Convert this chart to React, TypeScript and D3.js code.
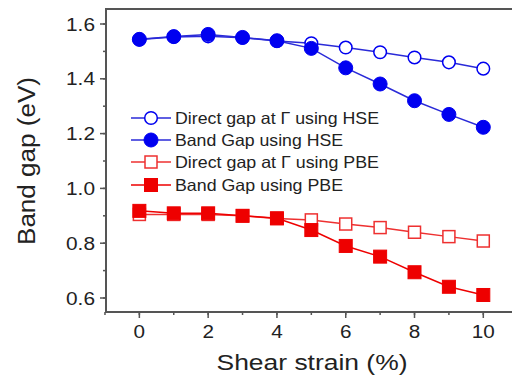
import React from "react";
import * as d3 from "d3";

const strain = [0, 1, 2, 3, 4, 5, 6, 7, 8, 9, 10];
const hseDirect = [1.543, 1.553, 1.555, 1.55, 1.538, 1.53, 1.514, 1.497, 1.478, 1.46, 1.437];
const hseBand = [1.544, 1.554, 1.562, 1.551, 1.539, 1.511, 1.44, 1.381, 1.32, 1.27, 1.223];
const pbeDirect = [0.905, 0.905, 0.905, 0.9, 0.89, 0.885, 0.87, 0.857, 0.84, 0.824, 0.808];
const pbeBand = [0.918, 0.909, 0.909, 0.9, 0.891, 0.848, 0.79, 0.751, 0.694, 0.641, 0.611];
const xTicks = [0, 2, 4, 6, 8, 10];
const yTicks = [0.6, 0.8, 1.0, 1.2, 1.4, 1.6];
const legendLabels = [
  "Direct gap at \u0393 using HSE",
  "Band Gap using HSE",
  "Direct gap at \u0393 using PBE",
  "Band Gap using PBE",
];

const W = 512;
const H = 387;
const L = 106;
const T = 9;
const B = 312;

export default function App() {
  const x = d3.scaleLinear().domain([-0.97, 10]).range([L, 483.3]);
  const y = d3.scaleLinear().domain([0.6, 1.6]).range([298, 24]);
  const line = (vals: number[]) =>
    d3.line<number>().x((_, i) => x(strain[i])).y((v) => y(v))(vals) || "";

  const blue = "#0000f0";
  const blueLine = "#2a2ad8";
  const red = "#ee0000";
  const redLight = "#ee3030";
  const font = "Liberation Sans, Arial, sans-serif";
  const txt = "#222";

  const series = [
    { vals: hseDirect, color: blue, lineColor: blueLine, shape: "circle", filled: false },
    { vals: hseBand, color: blue, lineColor: blueLine, shape: "circle", filled: true },
    { vals: pbeDirect, color: redLight, lineColor: redLight, shape: "square", filled: false },
    { vals: pbeBand, color: red, lineColor: red, shape: "square", filled: true },
  ];
  const legendLens = [204, 168, 204, 168];

  const marker = (cx: number, cy: number, s: any, key: any) =>
    s.shape === "circle" ? (
      <circle
        key={key}
        cx={cx}
        cy={cy}
        r={s.filled ? 7 : 6.3}
        fill={s.filled ? s.color : "#fff"}
        stroke={s.color}
        strokeWidth={s.filled ? 1 : 1.5}
      />
    ) : (
      <rect
        key={key}
        x={cx - (s.filled ? 6.5 : 6)}
        y={cy - (s.filled ? 6.5 : 6)}
        width={s.filled ? 13 : 12}
        height={s.filled ? 13 : 12}
        fill={s.filled ? s.color : "#fff"}
        stroke={s.color}
        strokeWidth={s.filled ? 1 : 1.5}
      />
    );

  const yMinor = d3.range(0.6, 1.65, 0.1);
  const xMinor = d3.range(-1, 11.5, 1);
  const legendY = [118, 140, 162, 185];

  return (
    <svg width={W} height={H} style={{ position: "absolute", left: 0, top: 0, background: "#fff" }}>
      <rect width={W} height={H} fill="#fff" />
      {/* frame */}
      <line x1={L} x2={W} y1={T} y2={T} stroke="#555" strokeWidth={2} />
      <line x1={L} x2={W} y1={B} y2={B} stroke="#555" strokeWidth={2} />
      <line x1={L} x2={L} y1={T - 1} y2={B + 1} stroke="#555" strokeWidth={2} />
      {/* y ticks */}
      {yMinor.map((v, i) => (
        <line key={"ym" + i} x1={L - 3} x2={L} y1={y(v)} y2={y(v)} stroke="#555" strokeWidth={1.5} />
      ))}
      {yTicks.map((v) => (
        <g key={"y" + v}>
          <line x1={L - 6} x2={L} y1={y(v)} y2={y(v)} stroke="#555" strokeWidth={1.5} />
          <text
            x={95}
            y={y(v) + 6.5}
            textAnchor="end"
            fontFamily={font}
            fontSize={18}
            fill={txt}
            textLength={29}
            lengthAdjust="spacingAndGlyphs"
          >
            {v.toFixed(1)}
          </text>
        </g>
      ))}
      {/* x ticks */}
      {xMinor.map((v, i) => (
        <line key={"xm" + i} x1={x(v)} x2={x(v)} y1={B} y2={B + 3} stroke="#555" strokeWidth={1.5} />
      ))}
      {xTicks.map((v) => (
        <g key={"x" + v}>
          <line x1={x(v)} x2={x(v)} y1={B} y2={B + 6} stroke="#555" strokeWidth={1.5} />
          <text
            x={x(v)}
            y={338}
            textAnchor="middle"
            fontFamily={font}
            fontSize={18}
            fill={txt}
            textLength={String(v).length * 11.5}
            lengthAdjust="spacingAndGlyphs"
          >
            {v}
          </text>
        </g>
      ))}
      {/* titles */}
      <text
        x={312}
        y={370}
        textAnchor="middle"
        fontFamily={font}
        fontSize={22}
        fill={txt}
        textLength={191}
        lengthAdjust="spacingAndGlyphs"
      >
        Shear strain (%)
      </text>
      <text
        transform={`translate(35,161) rotate(-90)`}
        textAnchor="middle"
        fontFamily={font}
        fontSize={23}
        fill={txt}
        textLength={168}
        lengthAdjust="spacingAndGlyphs"
      >
        Band gap (eV)
      </text>
      {/* series */}
      {series.map((s, si) => (
        <g key={"s" + si}>
          <path d={line(s.vals)} fill="none" stroke={s.lineColor} strokeWidth={1.5} />
        </g>
      ))}
      {series.map((s, si) => (
        <g key={"m" + si}>{s.vals.map((v, i) => marker(x(strain[i]), y(v), s, i))}</g>
      ))}
      {/* legend */}
      {series.map((s, si) => (
        <g key={"l" + si}>
          <line x1={131} x2={171} y1={legendY[si]} y2={legendY[si]} stroke={s.lineColor} strokeWidth={1.5} />
          {marker(151, legendY[si], s, "lm")}
          <text
            x={175}
            y={legendY[si] + 6}
            fontFamily={font}
            fontSize={16.5}
            fill={txt}
            textLength={legendLens[si]}
            lengthAdjust="spacingAndGlyphs"
          >
            {legendLabels[si]}
          </text>
        </g>
      ))}
    </svg>
  );
}
